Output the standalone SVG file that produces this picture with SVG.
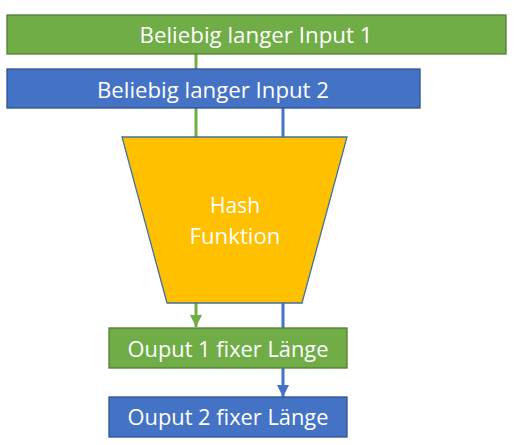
<svg xmlns="http://www.w3.org/2000/svg" width="516" height="445" viewBox="0 0 516 445">
<defs>
<style>
.lbl{font-family:"Open Sans","Liberation Sans",sans-serif;font-size:21px;fill:#fff;text-anchor:middle}
.g{fill:#70AD47;stroke:#507E32;stroke-width:1.3}
.b{fill:#4472C4;stroke:#2F528F;stroke-width:1.3}
.cg{stroke:#70AD47;stroke-width:3;fill:none}
.cb{stroke:#4472C4;stroke-width:3;fill:none}
</style>
<marker id="ag" viewBox="0 0 10 10" refX="10" refY="5" markerWidth="4" markerHeight="4" markerUnits="strokeWidth" orient="auto"><path d="M0,0 L10,5 L0,10 z" fill="#70AD47"/></marker>
<marker id="ab" viewBox="0 0 10 10" refX="10" refY="5" markerWidth="4" markerHeight="4" markerUnits="strokeWidth" orient="auto"><path d="M0,0 L10,5 L0,10 z" fill="#4472C4"/></marker>
</defs>
<g id="connectors">
<line class="cg" x1="196" y1="54" x2="196" y2="69"/>
<line class="cg" x1="196" y1="108" x2="196" y2="137"/>
<line class="cb" x1="283" y1="108" x2="283" y2="137"/>
<line class="cg" x1="196" y1="303" x2="196" y2="327" marker-end="url(#ag)"/>
<line class="cb" x1="283" y1="303" x2="283" y2="397" marker-end="url(#ab)"/>
</g>
<g id="input1">
<rect class="g" x="7" y="15" width="499" height="39"/>
<text class="lbl" x="256" y="43" textLength="233" lengthAdjust="spacingAndGlyphs">Beliebig langer Input 1</text>
</g>
<g id="input2">
<rect class="b" x="7" y="69" width="413" height="39"/>
<text class="lbl" x="213" y="98" textLength="232" lengthAdjust="spacingAndGlyphs">Beliebig langer Input 2</text>
</g>
<g id="hash">
<polygon points="122,137 347,137 302,303 167,303" fill="#FFC000" stroke="#41719C" stroke-width="1.3"/>
<text class="lbl" x="235" y="213">Hash</text>
<text class="lbl" x="235" y="244" textLength="91" lengthAdjust="spacingAndGlyphs">Funktion</text>
</g>
<g id="output1">
<rect class="g" x="109" y="328" width="238" height="40"/>
<text class="lbl" x="228" y="357" textLength="201" lengthAdjust="spacingAndGlyphs">Ouput 1 fixer Länge</text>
</g>
<g id="output2">
<rect class="b" x="109" y="397" width="238" height="40"/>
<text class="lbl" x="228" y="425" textLength="201" lengthAdjust="spacingAndGlyphs">Ouput 2 fixer Länge</text>
</g>
</svg>
